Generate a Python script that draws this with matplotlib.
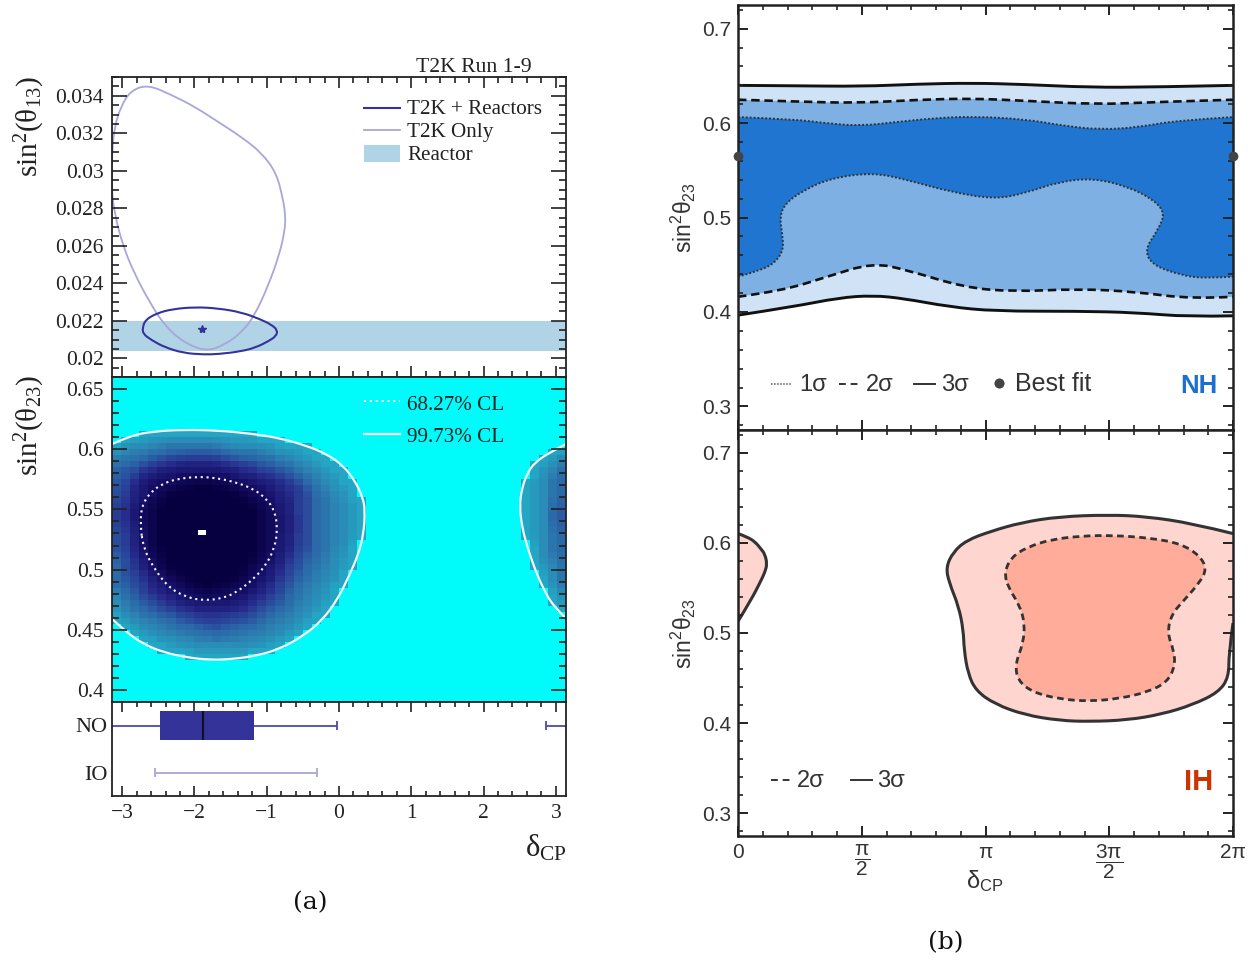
import numpy as np
import matplotlib
matplotlib.use("Agg")
import matplotlib.pyplot as plt
from matplotlib.colors import LinearSegmentedColormap
from matplotlib.lines import Line2D
from matplotlib.patches import PathPatch, Rectangle
from matplotlib.path import Path
from matplotlib.ticker import MultipleLocator, FixedLocator

W, H = 1255, 961

# panel (a), top: sin2(theta13) vs delta_cp
t2k_only_d = [-2.65, -2.89, -3.02, -3.10, -3.14, -3.15, -3.10, -2.99, -2.84, -2.62, -2.41, -2.15, -1.83, -1.57, -1.35,
              -1.17, -0.98, -0.83, -0.75, -0.74, -0.78, -0.87, -1.07, -1.35, -1.67, -1.99, -2.31]
t2k_only_s = [.03460, .03425, .0334, .03242, .03118, .02904, .02761, .02601, .02458, .02298, .02173, .02084, .02035,
              .02075, .02137, .02226, .02387, .02547, .02680, .02760, .02860, .02990, .03095, .03180, .0326, .0334,
              .03403]
t2k_reac_d = [-2.72, -2.68, -2.52, -2.31, -1.99, -1.67, -1.35, -1.09, -0.94, -0.85, -0.87, -0.98, -1.15, -1.35, -1.67,
              -1.88, -2.15, -2.41, -2.60, -2.71]
t2k_reac_s = [.02160, .02205, .02240, .02262, .02273, .02266, .02245, .02208, .02180, .02150, .02118, .02090, .02058,
              .02037, .02022, .02020, .02028, .02058, .02098, .02130]
reactor_band = [.0204, .0220]
best_d, best_s13, best_s23 = -1.89, .02155, .5306

# panel (a), middle: nested outlines of the histogram shades
ring1_d = [-3.14, -2.89, -2.57, -2.15, -1.69, -1.23, -.82, -.45, -.17, .06, .22, .33, .36, .34, .27, .13, -.03, -.24,
           -.49, -.82, -1.14, -1.46, -1.78, -2.11, -2.43, -2.71, -2.94, -3.14]
ring1_s = [.6043, .6112, .6148, .6162, .6156, .6131, .6093, .6029, .5960, .5863, .5738, .5600, .5489, .5295, .5129,
           .4935, .4742, .4575, .4451, .4340, .4285, .4257, .4249, .4271, .4313, .4382, .4479, .4589]
ring1r_d = [3.14, 2.92, 2.71, 2.60, 2.53, 2.50, 2.53, 2.60, 2.71, 2.83, 2.96, 3.14]
ring1r_s = [.6043, .5974, .5891, .5794, .5670, .5531, .5365, .5199, .5005, .4839, .4701, .4595]
ring2_d = [-3.2, -2.89, -2.48, -1.97, -1.55, -1.09, -.72, -.40, -.12, .06, .15, .13, .04, -.10, -.31, -.59, -.86,
           -1.23, -1.65, -2.11, -2.48, -2.80, -3.03, -3.2]
ring2_s = [.6001, .6043, .6084, .6098, .6071, .6029, .5974, .5891, .5766, .5628, .5461, .5268, .5101, .4908, .4714,
           .4548, .4437, .4368, .4326, .4368, .4437, .4548, .4631, .4700]
ring2r_d = [3.2, 2.9, 2.75, 2.70, 2.75, 2.9, 3.2]
ring2r_s = [.60, .59, .57, .55, .52, .49, .475]
ring3_d = [-3.2, -2.89, -2.48, -1.97, -1.55, -1.09, -.68, -.40, -.22, -.19, -.31, -.45, -.59, -.82, -1.14, -1.55,
           -1.97, -2.34, -2.71, -2.98, -3.2]
ring3_s = [.5863, .5904, .5974, .6001, .5974, .5932, .5863, .5738, .5545, .5295, .5101, .4963, .4797, .4631, .4520,
           .4465, .4479, .4548, .4659, .4797, .4908]
ring3r_d = [3.2, 3.0, 2.95, 3.0, 3.2]
ring3r_s = [.585, .575, .55, .525, .49]
ring4_d = [-2.96, -2.84, -2.71, -2.43, -1.97, -1.55, -1.09, -.76, -.52, -.45, -.50, -.62, -.78, -.98, -1.28, -1.69,
           -2.11, -2.48, -2.75, -2.91, -2.96, -2.98]
ring4_s = [.5683, .5766, .5863, .5918, .5946, .5918, .5849, .5780, .5655, .5489, .5268, .5074, .4880, .4714, .4617,
           .4562, .4603, .4700, .4852, .5018, .5185, .5434]
ring4r_d = [3.2, 3.08, 3.06, 3.2]
ring4r_s = [.565, .555, .54, .52]
ring5_d = [-2.82, -2.71, -2.43, -2.06, -1.60, -1.23, -.91, -.72, -.68, -.75, -.91, -1.09, -1.37, -1.74, -2.11, -2.43,
           -2.66, -2.80, -2.84]
ring5_s = [.5628, .5738, .5821, .5863, .5835, .5780, .5683, .5545, .5378, .5185, .4991, .4825, .4728, .4672, .4714,
           .4825, .4991, .5157, .5406]
ring6_d = [-2.64, -2.54, -2.29, -1.97, -1.60, -1.23, -1.02, -.95, -1.02, -1.18, -1.42, -1.78, -2.15, -2.43, -2.59,
           -2.66]
ring6_s = [.5489, .5614, .5711, .5752, .5724, .5641, .5517, .5351, .5157, .4991, .4852, .4797, .4852, .4991, .5185,
           .5351]
cl68_d = [-2.75, -2.73, -2.61, -2.45, -2.25, -1.97, -1.69, -1.42, -1.18, -1.00, -.89, -.85, -.89, -1.00, -1.18, -1.42,
          -1.60, -1.85, -2.11, -2.36, -2.57, -2.71]
cl68_s = [.5378, .5531, .5641, .5711, .5752, .5772, .5761, .5724, .5669, .5586, .5489, .5337, .5185, .5046, .4922,
          .4811, .4764, .4742, .4769, .4852, .5018, .5185]
shade_colors = ['#00FBFB', '#23A4C2', '#2C82B2', '#2A5CA4', '#272C8C', '#160F68', '#070040']

# panel (a), bottom: intervals
no_box = [-2.48, -1.18]
no_median = -1.88
no_left = [-3.14159, 0.0 - 0.03]
no_right = [2.87, 3.14159]
io_range = [-2.55, -0.31]

# panel (b), NH
nh3u_d = [0, .70, 1.57, 2.29, 2.97, 3.64, 4.46, 5.28, 6.283]
nh3u_s = [.6399, .6395, .6388, .6413, .6424, .6409, .6378, .6381, .6399]
nh2u_d = [0, .70, 1.52, 2.29, 2.97, 3.64, 4.56, 5.28, 6.283]
nh2u_s = [.6247, .6229, .6211, .6247, .6261, .6236, .6197, .6222, .6247]
nh1u_d = [0, .70, 1.18, 1.57, 2.00, 2.49, 2.97, 3.64, 4.13, 4.61, 5.09, 5.57, 6.283]
nh1u_s = [.6063, .6042, .5992, .5971, .6010, .6052, .6070, .6042, .5971, .5929, .5957, .6028, .6063]
nh1l_d = [0, .27, .46, .58, .56, .53, .60, .84, 1.18, 1.71, 2.15, 2.68, 3.26, 3.64, 4.08, 4.51, 4.95, 5.28, 5.42, 5.33,
          5.16, 5.26, 5.62, 5.91, 6.283]
nh1l_s = [.4373, .4436, .4514, .4656, .4832, .5009, .5151, .5292, .5416, .5476, .5398, .5274, .5193, .5257, .5380,
          .5416, .5327, .5186, .5045, .4868, .4656, .4496, .4390, .4355, .4373]
nh2l_d = [0, .56, 1.13, 1.71, 2.15, 2.87, 3.50, 4.32, 5.04, 5.77, 6.283]
nh2l_s = [.4161, .4224, .4373, .4521, .4443, .4260, .4214, .4245, .4214, .4136, .4161]
nh3l_d = [0, .70, 1.28, 1.71, 2.10, 2.68, 3.26, 4.32, 5.04, 5.72, 6.283]
nh3l_s = [.3966, .4055, .4150, .4175, .4143, .4055, .4008, .4008, .3994, .3948, .3959]
nh_best_d = [0, 6.283]
nh_best_s = [.5653, .5653]

# panel (b), IH
ih3a_d = [0, .12, .22, .29, .34, .37, .34, .29, .17, 0]
ih3a_s = [.6102, .6064, .6008, .5933, .5877, .5765, .5671, .5578, .5372, .5129]
ih3b_d = [6.283, 5.77, 5.19, 4.71, 4.08, 3.60, 3.21, 2.90, 2.73, 2.64, 2.68, 2.80, 2.86, 2.87, 2.92, 3.02, 3.26, 3.64,
          4.08, 4.46, 4.95, 5.38, 5.77, 6.10, 6.23, 6.23, 6.283]
ih3b_s = [.6102, .6214, .6290, .6310, .6290, .6225, .6128, .6027, .5896, .5728, .5559, .5297, .5035, .4811, .4549,
          .4361, .4212, .4092, .4030, .4018, .4036, .4100, .4204, .4343, .4511, .4773, .5110]
ih2_d = [3.38, 3.47, 3.67, 3.98, 4.37, 4.75, 5.24, 5.62, 5.86, 5.95, 5.86, 5.67, 5.50, 5.45, 5.53, 5.55, 5.45, 5.19,
         4.85, 4.46, 4.08, 3.74, 3.55, 3.52, 3.62, 3.64, 3.57, 3.43]
ih2_s = [.5671, .5840, .5952, .6038, .6076, .6083, .6053, .5990, .5859, .5709, .5559, .5372, .5204, .4998, .4811,
         .4642, .4455, .4343, .4275, .4242, .4268, .4343, .4474, .4661, .4885, .5110, .5316, .5503]

SERIF = "Liberation Serif"
SANS = "Liberation Sans"
plt.rcParams["mathtext.default"] = "regular"


def add_axes(fig, left, top, right, bottom):
    return fig.add_axes([left / W, 1 - bottom / H, (right - left) / W, (bottom - top) / H])


def curve_parts(xs, ys):
    pts = np.column_stack([xs, ys])
    verts = [pts[0]]
    codes = [Path.MOVETO]
    for i in range(1, len(pts) - 1):
        end = pts[i + 1] if i == len(pts) - 2 else (pts[i] + pts[i + 1]) / 2
        verts += [pts[i], end]
        codes += [Path.CURVE3, Path.CURVE3]
    return verts, codes


def open_curve(xs, ys):
    verts, codes = curve_parts(xs, ys)
    return Path(verts, codes)


def closed_curve(xs, ys):
    pts = np.column_stack([xs, ys])
    mids = (pts + np.roll(pts, -1, axis=0)) / 2
    verts = [mids[-1]]
    codes = [Path.MOVETO]
    for p, m in zip(pts, mids):
        verts += [p, m]
        codes += [Path.CURVE3, Path.CURVE3]
    return Path(verts, codes)


def band(x1, y1, x2, y2):
    v1, c1 = curve_parts(x1, y1)
    v2, c2 = curve_parts(x2[::-1], y2[::-1])
    c2[0] = Path.LINETO
    return Path(v1 + v2 + [v1[0]], c1 + c2 + [Path.CLOSEPOLY])


def fig_text(fig, x, y, s, **kw):
    return fig.text(x / W, 1 - y / H, s, va=kw.pop("va", "center"), **kw)


def key_line(fig, x0, x1, y, **kw):
    fig.add_artist(Line2D([x0 / W, x1 / W], [1 - y / H, 1 - y / H], transform=fig.transFigure, **kw))


def style_left(ax):
    for sp in ax.spines.values():
        sp.set_linewidth(1.3)
        sp.set_color("#222222")
    ax.tick_params(which="both", direction="in", color="#222222", labelsize=15.5, width=1.2, pad=6,
                   labelcolor="#222222")
    ax.set_xlim(-np.pi, np.pi)


def style_right(ax):
    for sp in ax.spines.values():
        sp.set_linewidth(1.8)
        sp.set_color("#222222")
    ax.set_xlim(0, 2 * np.pi)
    ax.set_ylim(.275, .725)
    ax.xaxis.set_major_locator(MultipleLocator(np.pi / 2))
    ax.xaxis.set_minor_locator(MultipleLocator(np.pi / 10))
    ax.yaxis.set_major_locator(MultipleLocator(.1))
    ax.yaxis.set_minor_locator(MultipleLocator(.02))
    ax.tick_params(which="major", direction="in", top=True, right=True, length=7, width=1.4, color="#222222",
                   labelsize=15, pad=5, labelcolor="#333333")
    ax.tick_params(which="minor", direction="in", top=True, right=True, length=3.5, width=1.2, color="#222222")
    ax.set_yticks([.3, .4, .5, .6, .7], ["0.3", "0.4", "0.5", "0.6", "0.7"], family=SANS)
    ax.set_ylabel("sin$^{2}$θ$_{23}$", family=SANS, fontsize=16.5, color="#333333", labelpad=3)


fig = plt.figure(figsize=(W / 100, H / 100), dpi=100)

# ---- panel (a) top
ax = add_axes(fig, 112, 77, 566, 377)
style_left(ax)
ax.set_ylim(.019, .035)
ax.axhspan(reactor_band[0], reactor_band[1], color="#B0D3E6", lw=0)
ax.add_patch(PathPatch(closed_curve(t2k_only_d, t2k_only_s), fill=False, ec="#A9A6D8", lw=1.3))
ax.add_patch(PathPatch(closed_curve(t2k_reac_d, t2k_reac_s), fill=False, ec="#33339A", lw=1.5))
ax.plot([best_d], [best_s13], marker="*", ms=6, color="#33339A", ls="none")
ax.xaxis.set_major_locator(MultipleLocator(1))
ax.xaxis.set_minor_locator(MultipleLocator(.2))
ax.yaxis.set_major_locator(MultipleLocator(.002))
ax.yaxis.set_minor_locator(MultipleLocator(.0005))
ax.tick_params(which="major", top=True, right=True, length=8, labelbottom=False)
ax.tick_params(which="minor", top=True, right=True, length=4)
ax.tick_params(axis="y", which="major", length=11)
ax.tick_params(axis="y", which="minor", length=5)
ax.set_yticks([.02, .022, .024, .026, .028, .03, .032, .034],
              ["0.02", "0.022", "0.024", "0.026", "0.028", "0.03", "0.032", "0.034"], family=SERIF)

# ---- panel (a) middle, shades rasterised onto the histogram bins
xedges = np.linspace(-np.pi, np.pi, 51)
yedges = np.linspace(.39, .66, 55)
cx, cy = np.meshgrid((xedges[:-1] + xedges[1:]) / 2, (yedges[:-1] + yedges[1:]) / 2)
centres = np.column_stack([cx.ravel(), cy.ravel()])
levels = np.zeros(cx.shape)
rings = [(1, ring1_d, ring1_s), (1, ring1r_d, ring1r_s), (2, ring2_d, ring2_s), (2, ring2r_d, ring2r_s),
         (3, ring3_d, ring3_s), (3, ring3r_d, ring3r_s), (4, ring4_d, ring4_s), (4, ring4r_d, ring4r_s),
         (5, ring5_d, ring5_s), (6, ring6_d, ring6_s)]
for level, d, s in rings:
    inside = Path(np.column_stack([d, s])).contains_points(centres).reshape(cx.shape)
    levels[inside] = level
# neighbouring bins are averaged so the shades step softly like in the histogram
grid = np.zeros(levels.shape)
for dy in (-1, 0, 1):
    for dx in (-1, 0, 1):
        grid += np.roll(np.roll(levels, dy, axis=0), dx, axis=1) / 9
grid = np.where(levels > 0, np.maximum(grid, 1), 0)

shade_cmap = LinearSegmentedColormap.from_list("shades", shade_colors, N=256)

ax = add_axes(fig, 112, 377, 566, 702)
style_left(ax)
ax.pcolormesh(xedges, yedges, grid, cmap=shade_cmap, vmin=0, vmax=6, zorder=0.5, antialiased=False)
ax.add_patch(Rectangle((best_d - .055, best_s23 - .002), .11, .004, fc="white", ec="none", zorder=1))
ax.add_patch(PathPatch(open_curve(ring1_d, ring1_s), fill=False, ec="#F4F8F8", lw=1.6, zorder=1))
ax.add_patch(PathPatch(open_curve(ring1r_d, ring1r_s), fill=False, ec="#F4F8F8", lw=1.6, zorder=1))
ax.add_patch(PathPatch(closed_curve(cl68_d, cl68_s), fill=False, ec="#F4F8F8", lw=1.5, ls=(0, (1, 1.8)), zorder=1))
ax.set_ylim(.39, .66)
ax.yaxis.set_major_locator(MultipleLocator(.05))
ax.yaxis.set_minor_locator(MultipleLocator(.01))
ax.tick_params(which="both", bottom=False, labelbottom=False, right=True)
ax.tick_params(axis="y", which="major", length=11)
ax.tick_params(axis="y", which="minor", length=5)
ax.set_yticks([.4, .45, .5, .55, .6, .65], ["0.4", "0.45", "0.5", "0.55", "0.6", "0.65"], family=SERIF)
ax.set_axisbelow(False)

# ---- panel (a) bottom
ax = add_axes(fig, 112, 702, 566, 796)
style_left(ax)
ax.set_ylim(-.5, 1.5)
ax.hlines(1, no_left[0], no_left[1], color="#4A4AA8", lw=1.3)
ax.hlines(1, no_right[0], no_right[1], color="#4A4AA8", lw=1.3)
ax.vlines([no_left[1], no_right[0]], .9, 1.1, color="#4A4AA8", lw=1.3)
ax.barh(1, no_box[1] - no_box[0], left=no_box[0], height=.62, color="#33339A", zorder=3)
ax.vlines(no_median, .69, 1.31, color="#111122", lw=1.6, zorder=4)
ax.hlines(0, io_range[0], io_range[1], color="#A9A6D8", lw=1.3)
ax.vlines(io_range, -.1, .1, color="#A9A6D8", lw=1.3)
ax.xaxis.set_major_locator(MultipleLocator(1))
ax.xaxis.set_minor_locator(MultipleLocator(.2))
ax.tick_params(which="major", top=True, length=7)
ax.tick_params(which="minor", top=True, length=3.5)
ax.set_xticks([-3, -2, -1, 0, 1, 2, 3], ["\u22123", "\u22122", "\u22121", "0", "1", "2", "3"], family=SERIF)
ax.set_yticks([0, 1], ["IO", "NO"], family=SERIF, fontsize=16)
ax.tick_params(axis="y", which="both", length=0, pad=3)
ax.yaxis.set_minor_locator(FixedLocator([]))

# ---- panel (b) NH
ax = add_axes(fig, 738, 5, 1233, 430)
style_right(ax)
ax.tick_params(which="both", labelbottom=False)
ax.add_patch(PathPatch(band(nh3u_d, nh3u_s, nh3l_d, nh3l_s), fc="#CFE2F6", lw=0))
ax.add_patch(PathPatch(band(nh2u_d, nh2u_s, nh2l_d, nh2l_s), fc="#7FB0E4", lw=0))
ax.add_patch(PathPatch(band(nh1u_d, nh1u_s, nh1l_d, nh1l_s), fc="#1F75D0", lw=0))
for d, s in [(nh3u_d, nh3u_s), (nh3l_d, nh3l_s)]:
    ax.add_patch(PathPatch(open_curve(d, s), fill=False, ec="#111111", lw=2.1))
for d, s in [(nh2u_d, nh2u_s), (nh2l_d, nh2l_s)]:
    ax.add_patch(PathPatch(open_curve(d, s), fill=False, ec="#111111", lw=1.9, ls=(0, (3.2, 1.8))))
for d, s in [(nh1u_d, nh1u_s), (nh1l_d, nh1l_s)]:
    ax.add_patch(PathPatch(open_curve(d, s), fill=False, ec="#333333", lw=1.4, ls=(0, (1, 1))))
ax.plot(nh_best_d, nh_best_s, "o", color="#444444", ms=6, clip_on=False, zorder=5)

# ---- panel (b) IH
ax = add_axes(fig, 738, 430, 1233, 836)
style_right(ax)
ax.add_patch(PathPatch(open_curve(ih3a_d, ih3a_s), fc="#FFD5CF", lw=0))
ax.add_patch(PathPatch(open_curve(ih3b_d, ih3b_s), fc="#FFD5CF", lw=0))
ax.add_patch(PathPatch(closed_curve(ih2_d, ih2_s), fc="#FFAC9B", lw=0))
ax.add_patch(PathPatch(open_curve(ih3a_d, ih3a_s), fill=False, ec="#333333", lw=2.2))
ax.add_patch(PathPatch(open_curve(ih3b_d, ih3b_s), fill=False, ec="#333333", lw=2.2))
ax.add_patch(PathPatch(closed_curve(ih2_d, ih2_s), fill=False, ec="#333333", lw=2.0, ls=(0, (2.4, 1.6))))
ax.set_xticks([0, np.pi / 2, np.pi, 3 * np.pi / 2, 2 * np.pi],
              ["0", r"$\dfrac{π}{2}$", "π", r"$\dfrac{3π}{2}$", "2π"], family=SANS)

# ---- texts and legend keys drawn on the figure
fig_text(fig, 532, 67, "T2K Run 1-9", family=SERIF, fontsize=15.6, ha="right", color="#222222")
fig_text(fig, 30, 127, "sin$^{2}$(θ$_{13}$)", family=SERIF, fontsize=21, rotation=90, ha="center", color="#222222")
fig_text(fig, 30, 426, "sin$^{2}$(θ$_{23}$)", family=SERIF, fontsize=21, rotation=90, ha="center", color="#222222")
fig_text(fig, 567, 848, "δ$_{CP}$", family=SERIF, fontsize=22, ha="right", color="#222222")
fig_text(fig, 310, 903, "(a)", family="DejaVu Serif", fontsize=18, ha="center", color="#111111")
fig_text(fig, 946, 943, "(b)", family="DejaVu Serif", fontsize=18, ha="center", color="#111111")

key_line(fig, 364, 400, 108, color="#33339A", lw=1.5)
fig_text(fig, 407, 110, "T2K + Reactors", family=SERIF, fontsize=15.2, color="#222222")
key_line(fig, 364, 400, 130, color="#A9A6D8", lw=1.3)
fig_text(fig, 407, 133, "T2K Only", family=SERIF, fontsize=15.2, color="#222222")
fig.add_artist(Rectangle((364 / W, 1 - 162 / H), 36 / W, 17 / H, transform=fig.transFigure, fc="#B0D3E6", ec="none"))
fig_text(fig, 407, 156, "Reactor", family=SERIF, fontsize=15.2, color="#222222")
key_line(fig, 364, 400, 401, color="white", lw=1.5, ls=(0, (1, 1.8)))
fig_text(fig, 407, 405, "68.27% CL", family=SERIF, fontsize=15.2, color="#222222")
key_line(fig, 364, 400, 434, color="white", lw=1.6)
fig_text(fig, 407, 438, "99.73% CL", family=SERIF, fontsize=15.2, color="#222222")

fig_text(fig, 985, 881, "δ$_{CP}$", family=SANS, fontsize=17, ha="center", color="#333333")

key_line(fig, 771, 792, 384, color="#555555", lw=1.1, ls=(0, (1, 1)))
fig_text(fig, 799, 385, "1σ", family=SANS, fontsize=17, color="#333333")
key_line(fig, 839, 860, 384, color="#333333", lw=1.4, ls=(0, (3.5, 2.5)))
fig_text(fig, 866, 385, "2σ", family=SANS, fontsize=17, color="#333333")
key_line(fig, 914, 935, 384, color="#333333", lw=1.4)
fig_text(fig, 941, 385, "3σ", family=SANS, fontsize=17, color="#333333")
key_line(fig, 999, 999.1, 383, color="#444444", marker="o", ms=6, ls="none")
fig_text(fig, 1015, 384, "Best fit", family=SANS, fontsize=18, color="#333333")
fig_text(fig, 1199, 386, "NH", family=SANS, fontsize=18.5, weight="bold", ha="center", color="#1C6FCC")

key_line(fig, 771, 792, 780, color="#333333", lw=1.4, ls=(0, (3.5, 2.5)))
fig_text(fig, 797, 781, "2σ", family=SANS, fontsize=17, color="#333333")
key_line(fig, 851, 872, 780, color="#333333", lw=1.4)
fig_text(fig, 877, 781, "3σ", family=SANS, fontsize=17, color="#333333")
fig_text(fig, 1199, 782, "IH", family=SANS, fontsize=21, weight="bold", ha="center", color="#CC3300")

fig.savefig("out.png", dpi=100)
